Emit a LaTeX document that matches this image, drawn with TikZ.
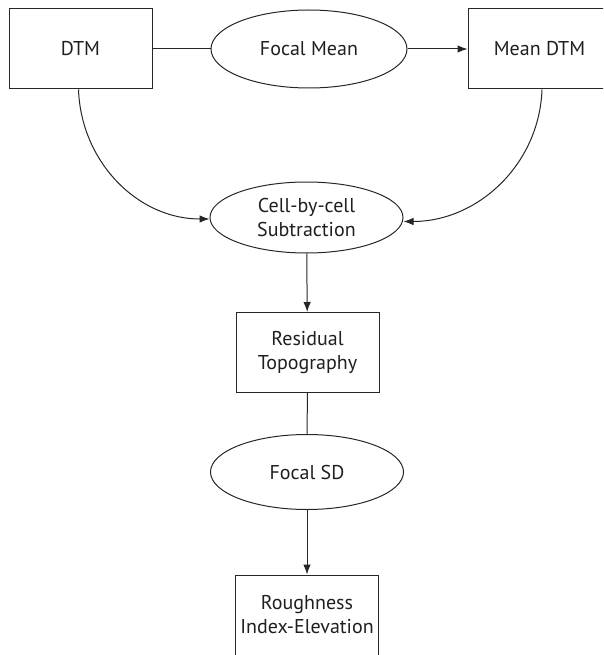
\documentclass[tikz,border=0pt]{standalone}
\usepackage{fontspec}
\setmainfont{PT Sans}
\usetikzlibrary{shapes.geometric,arrows.meta}
\begin{document}
\begin{tikzpicture}[x=1pt, y=-1pt, every node/.style={font=\fontsize{20}{24}\selectfont, text=black!88},
  box/.style={draw=black!85, line width=1pt, minimum width=143pt, minimum height=80pt, align=center, inner sep=0pt},
  op/.style={draw=black!85, ellipse, line width=1pt, minimum width=194pt, minimum height=72pt, align=center, inner sep=0pt},
  link/.style={draw=black!85, line width=1pt},
  flow/.style={draw=black!85, line width=1pt, -{Latex[length=10pt,width=7.5pt]}}]
\useasboundingbox (0,0) rectangle (603,655);
\clip (0,0) rectangle (603,655);
\node[box] (dtm) at (80.5,49) {DTM};
\node[op, minimum width=196pt, minimum height=78pt] (fmean) at (309,49) {Focal Mean};
\node[box] (mdtm) at (539.5,49) {Mean DTM};
\node[op, minimum width=193pt, minimum height=71pt] (sub) at (306.5,217.5) {Cell-by-cell\\Subtraction};
\node[box] (resid) at (307.5,352.5) {Residual\\Topography};
\node[op, minimum width=193pt, minimum height=75pt] (fsd) at (307,472) {Focal SD};
\node[box] (rough) at (307,615) {Roughness\\Index-Elevation};
\draw[link] (dtm) -- (fmean);
\draw[flow] (fmean) -- (mdtm);
\draw[flow] ([xshift=-2pt]dtm.south) to[out=-88, in=180] ([yshift=-1.5pt]sub.west);
\draw[flow] ([xshift=2.5pt]mdtm.south) to[out=-92, in=0] ([yshift=-4pt]sub.east);
\draw[flow] (sub) -- (resid);
\draw[link] (resid) -- (fsd);
\draw[flow] (fsd) -- (rough);
\end{tikzpicture}
\end{document}
